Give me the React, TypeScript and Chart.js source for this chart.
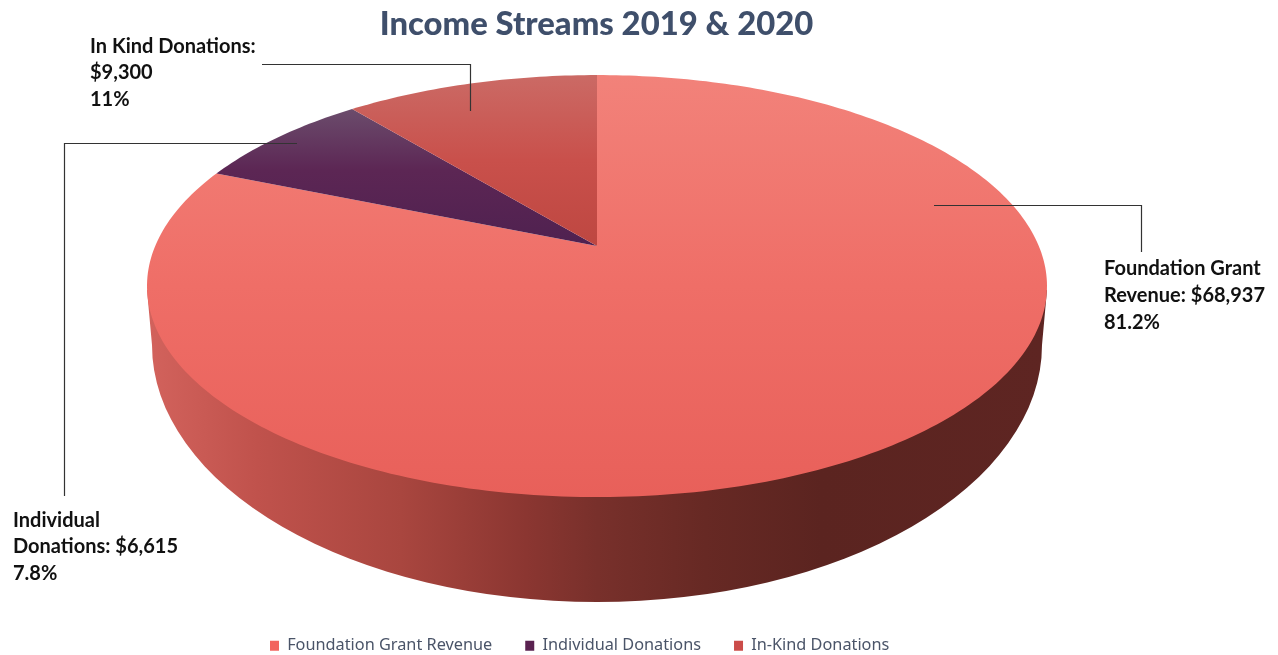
import React, { useEffect, useRef } from "react";
import { Chart, registerables } from "chart.js";

Chart.register(...registerables);

const TITLE = "Income Streams 2019 & 2020";
const CATEGORIES = ["Foundation Grant Revenue", "Individual Donations", "In-Kind Donations"];
const VALUES = [68937, 6615, 9300];
const LEGEND_COLORS = ["#F2645F", "#5A2250", "#CB4C49"];
const FOUNDATION_LABEL = ["Foundation Grant", "Revenue: $68,937", "81.2%"];
const INDIVIDUAL_LABEL = ["Individual", "Donations: $6,615", "7.8%"];
const IN_KIND_LABEL = ["In Kind Donations:", "$9,300", "11%"];

// Perspective of the pie's top face
const CX = 597;
const APEX_Y = 246;
const PERSP_A = 0.19;
const PERSP_B = 203.4;
const PERSP_S = 441.8;

function project(angle: number): [number, number] {
  const t = angle + Math.PI / 2;
  const u = Math.sin(t);
  const v = Math.cos(t);
  const w = 1 + PERSP_A * v;
  return [CX + (PERSP_S * u) / w, APEX_Y - (PERSP_B * v) / w];
}

const SLICE_STOPS: [number, string][][] = [
  [[0, "#F2827A"], [0.5, "#EF6E67"], [1, "#E8605A"]],
  [[0, "#6B4C6C"], [0.45, "#5C2654"], [1, "#4F2150"]],
  [[0, "#CB6A65"], [0.5, "#C9504B"], [1, "#BE4741"]],
];

const pie3d = {
  id: "pie3d",
  beforeDatasetDraw(chart: any, args: any) {
    const ctx: CanvasRenderingContext2D = chart.ctx;
    const arcs = chart.getDatasetMeta(args.index).data;
    ctx.save();
    // side wall
    const g = ctx.createLinearGradient(150, 0, 1045, 0);
    const wall: [number, string][] = [
      [0, "#D2625C"], [0.12, "#C0524C"], [0.28, "#A9463F"], [0.42, "#8B3631"],
      [0.5, "#78302B"], [0.62, "#672924"], [0.75, "#5B2420"], [1, "#5E2522"],
    ];
    wall.forEach(([o, c]) => g.addColorStop(o, c));
    ctx.fillStyle = g;
    ctx.beginPath();
    ctx.moveTo(147, 290);
    ctx.lineTo(152, 345);
    ctx.ellipse(CX, 345, 445, 257, 0, Math.PI, 0, true);
    ctx.lineTo(1047, 290);
    ctx.closePath();
    ctx.fill();
    // top face
    arcs.forEach((arc: any, i: number) => {
      const { startAngle, endAngle } = arc.getProps(["startAngle", "endAngle"], true);
      ctx.beginPath();
      ctx.moveTo(CX, APEX_Y);
      const steps = Math.max(8, Math.ceil(((endAngle - startAngle) * 180) / Math.PI));
      let minY = APEX_Y;
      let maxY = APEX_Y;
      for (let s = 0; s <= steps; s++) {
        const [x, y] = project(startAngle + ((endAngle - startAngle) * s) / steps);
        ctx.lineTo(x, y);
        minY = Math.min(minY, y);
        maxY = Math.max(maxY, y);
      }
      ctx.closePath();
      const f = ctx.createLinearGradient(0, minY, 0, maxY);
      SLICE_STOPS[i].forEach(([o, c]) => f.addColorStop(o, c));
      ctx.fillStyle = f;
      ctx.fill();
    });
    ctx.restore();
    return false;
  },
  afterDraw(chart: any) {
    const ctx: CanvasRenderingContext2D = chart.ctx;
    ctx.save();
    ctx.strokeStyle = "#333333";
    ctx.lineWidth = 1.2;
    const lines = [
      [[262, 64.5], [470.5, 64.5], [470.5, 111]],
      [[297, 143.5], [64.5, 143.5], [64.5, 496]],
      [[934, 205.5], [1141.5, 205.5], [1141.5, 252]],
    ];
    lines.forEach((pts) => {
      ctx.beginPath();
      pts.forEach(([x, y], i) => (i ? ctx.lineTo(x, y) : ctx.moveTo(x, y)));
      ctx.stroke();
    });
    ctx.fillStyle = "#111111";
    ctx.font = "bold 20px Lato";
    ctx.textAlign = "left";
    ctx.textBaseline = "alphabetic";
    const draw = (rows: string[], x: number, y: number) =>
      rows.forEach((r, i) => ctx.fillText(r, x, y + i * 26.8));
    draw(IN_KIND_LABEL, 90, 52.5);
    draw(INDIVIDUAL_LABEL, 13, 526.5);
    draw(FOUNDATION_LABEL, 1104, 275);
    ctx.restore();
  },
};

export default function App() {
  const ref = useRef<HTMLCanvasElement>(null);
  useEffect(() => {
    const chart = new Chart(ref.current!, {
      type: "pie",
      data: {
        labels: CATEGORIES,
        datasets: [{ data: VALUES, backgroundColor: LEGEND_COLORS, borderWidth: 0 }],
      },
      options: {
        responsive: false,
        animation: false,
        layout: { padding: { left: 237, right: 322, top: 0, bottom: -9 } },
        plugins: {
          tooltip: { enabled: false },
          title: {
            display: true,
            text: TITLE,
            color: "#3F4F6B",
            font: { family: "Lato", size: 32.8, weight: "900" },
            padding: { top: 5, bottom: 4 },
          },
          legend: {
            position: "bottom",
            align: "start",
            labels: {
              boxWidth: 9,
              boxHeight: 10,
              padding: 33,
              color: "#4A5468",
              font: { family: "Noto Sans", size: 16.3 },
            },
          },
        },
      },
      plugins: [pie3d],
    } as any);
    return () => chart.destroy();
  }, []);
  return (
    <div style={{ position: "fixed", left: 0, top: 0, width: 1278, height: 655, background: "#fff" }}>
      <canvas ref={ref} width={1278} height={655} style={{ display: "block" }} />
    </div>
  );
}
